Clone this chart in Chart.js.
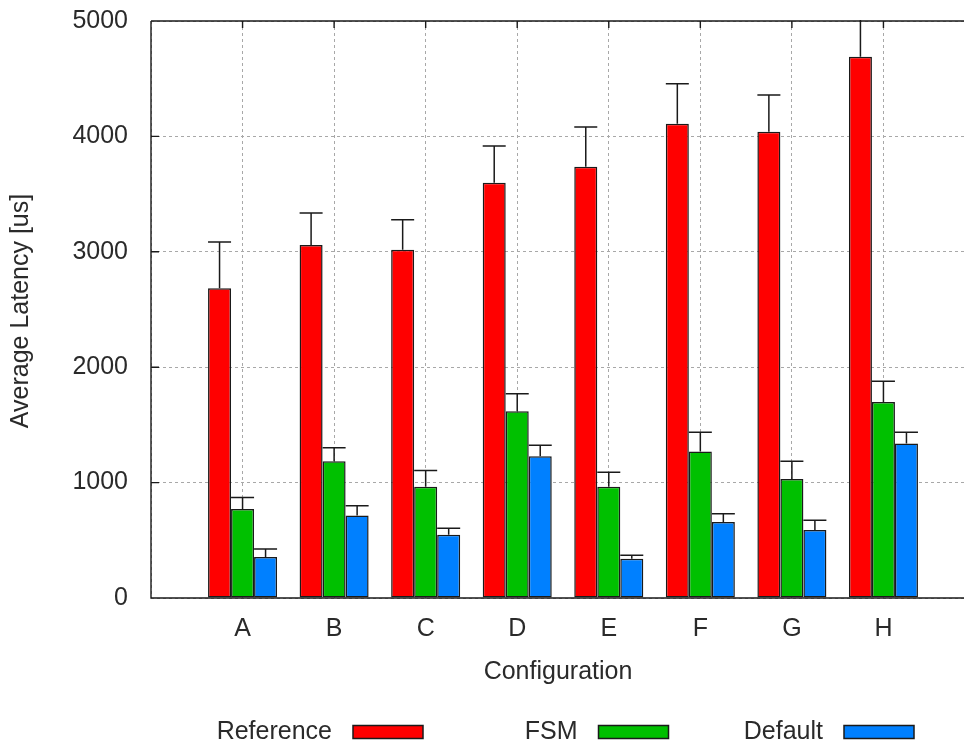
<!DOCTYPE html>
<html>
<head>
<meta charset="utf-8">
<script src="https://cdn.jsdelivr.net/npm/chart.js@4/dist/chart.umd.min.js"></script>
<style>
  html, body { margin: 0; padding: 0; overflow: hidden; background: #fff; }
  canvas { display: block; }
</style>
</head>
<body>
<canvas id="c" width="1000" height="747" style="width:1000px;height:747px"></canvas>
<script>
// Configurations on the x axis
const categories = ['A', 'B', 'C', 'D', 'E', 'F', 'G', 'H'];

// Average latency per configuration [us]
const referenceAvg = [2685, 3058, 3017, 3598, 3737, 4110, 4041, 4691];
const fsmAvg       = [772, 1185, 965, 1619, 965, 1269, 1032, 1699];
const defaultAvg   = [355, 714, 549, 1228, 341, 659, 590, 1338];

// Upper error (added on top of the average) [us]
const referenceErr = [399, 278, 261, 318, 344, 347, 318, 330];
const fsmErr       = [98, 116, 139, 150, 125, 168, 153, 180];
const defaultErr   = [70, 86, 55, 96, 29, 72, 84, 99];

// Y axis ticks
const yTicks = [0, 1000, 2000, 3000, 4000, 5000];

const seriesNames = ['Reference', 'FSM', 'Default'];
const seriesColors = ['#ff0000', '#00c000', '#0080ff'];

// an empty slot on each side of the groups
const pad = a => [null, ...a, null];
const labels = pad(categories).map(v => v === null ? '' : v);

const FONT = "'Liberation Sans', Arial, sans-serif";
const TEXT = '#2a2a2a';
const LINE = '#1a1a1a';

const errorBars = {
  id: 'errorBars',
  afterDatasetsDraw(chart) {
    const ctx = chart.ctx;
    const y = chart.scales.y;
    const area = chart.chartArea;
    ctx.save();
    ctx.beginPath();
    ctx.rect(area.left, area.top - 1, area.right - area.left, area.bottom - area.top + 2);
    ctx.clip();
    ctx.strokeStyle = LINE;
    ctx.lineWidth = 1.5;
    chart.data.datasets.forEach((ds, i) => {
      const meta = chart.getDatasetMeta(i);
      meta.data.forEach((el, j) => {
        const v = ds.data[j];
        const e = ds.errors[j];
        if (v === null || e === null) return;
        const top = y.getPixelForValue(v + e);
        const half = el.width / 2;
        ctx.beginPath();
        ctx.moveTo(el.x, el.y);
        ctx.lineTo(el.x, top);
        ctx.moveTo(el.x - half, top);
        ctx.lineTo(el.x + half, top);
        ctx.stroke();
      });
    });
    ctx.restore();
  }
};

const frame = {
  id: 'frame',
  afterDatasetsDraw(chart) {
    const ctx = chart.ctx;
    const a = chart.chartArea;
    const x = chart.scales.x;
    const y = chart.scales.y;
    ctx.save();
    ctx.strokeStyle = LINE;
    ctx.lineWidth = 1.4;
    ctx.beginPath();
    ctx.moveTo(a.left, a.top);
    ctx.lineTo(a.right + 30, a.top);
    ctx.moveTo(a.left, a.top);
    ctx.lineTo(a.left, a.bottom);
    ctx.lineTo(a.right + 30, a.bottom);
    // inward ticks on the left axis
    yTicks.forEach(t => {
      const py = y.getPixelForValue(t);
      ctx.moveTo(a.left, py);
      ctx.lineTo(a.left + 8, py);
    });
    // inward ticks on the top border
    categories.forEach((c, i) => {
      const px = x.getPixelForValue(i + 1);
      ctx.moveTo(px, a.top);
      ctx.lineTo(px, a.top + 7);
    });
    ctx.stroke();
    ctx.restore();
  }
};

const annotations = {
  id: 'annotations',
  afterDraw(chart) {
    const ctx = chart.ctx;
    ctx.save();
    ctx.fillStyle = TEXT;
    ctx.font = '25px ' + FONT;
    ctx.textBaseline = 'middle';

    // axis titles
    ctx.textAlign = 'center';
    ctx.fillText('Configuration', 558, 672);
    ctx.save();
    ctx.translate(21, 311);
    ctx.rotate(-Math.PI / 2);
    ctx.fillText('Average Latency [us]', 0, 0);
    ctx.restore();

    // legend: label followed by a swatch
    const boxW = 70, boxH = 13, step = 245.5, firstBox = 353, cy = 732;
    chart.data.datasets.forEach((ds, i) => {
      const bx = firstBox + i * step;
      ctx.textAlign = 'right';
      ctx.fillStyle = TEXT;
      ctx.fillText(ds.label, bx - 21, cy);
      ctx.fillStyle = ds.backgroundColor;
      ctx.fillRect(bx, cy - boxH / 2, boxW, boxH);
      ctx.strokeStyle = LINE;
      ctx.lineWidth = 1.5;
      ctx.strokeRect(bx, cy - boxH / 2, boxW, boxH);
    });
    ctx.restore();
  }
};

const values = [referenceAvg, fsmAvg, defaultAvg];
const errors = [referenceErr, fsmErr, defaultErr];

new Chart(document.getElementById('c'), {
  type: 'bar',
  data: {
    labels,
    datasets: seriesNames.map((name, i) => ({
      label: name,
      data: pad(values[i]),
      errors: pad(errors[i]),
      backgroundColor: seriesColors[i],
      borderColor: LINE,
      borderWidth: 1.5,
      borderSkipped: false,
      barPercentage: 1,
      categoryPercentage: 0.754
    }))
  },
  options: {
    responsive: false,
    animation: false,
    devicePixelRatio: 1,
    layout: { padding: { left: 0, top: 21, right: 25, bottom: 0 } },
    plugins: {
      legend: { display: false },
      tooltip: { enabled: false }
    },
    scales: {
      x: {
        type: 'category',
        offset: false,
        grid: {
          offset: false,
          color: '#a8a8a8',
          lineWidth: 1,
          drawTicks: false
        },
        border: { display: false, dash: [3, 3] },
        ticks: {
          color: TEXT,
          font: { family: FONT, size: 25 },
          padding: 16,
          maxRotation: 0,
          autoSkip: false
        },
        afterFit(scale) {
          scale.height = 149;
          scale.paddingLeft = 0;
          scale.paddingRight = 0;
        }
      },
      y: {
        min: 0,
        max: 5000,
        grid: {
          color: '#a8a8a8',
          lineWidth: 1,
          drawTicks: false
        },
        border: { display: false, dash: [3, 3] },
        ticks: {
          stepSize: 1000,
          color: TEXT,
          font: { family: FONT, size: 25 },
          padding: 23,
          callback: v => yTicks.includes(v) ? String(v) : ''
        },
        afterFit(scale) {
          scale.width = 151;
          scale.paddingTop = 0;
          scale.paddingBottom = 0;
        }
      }
    }
  },
  plugins: [errorBars, frame, annotations]
});
</script>
</body>
</html>
